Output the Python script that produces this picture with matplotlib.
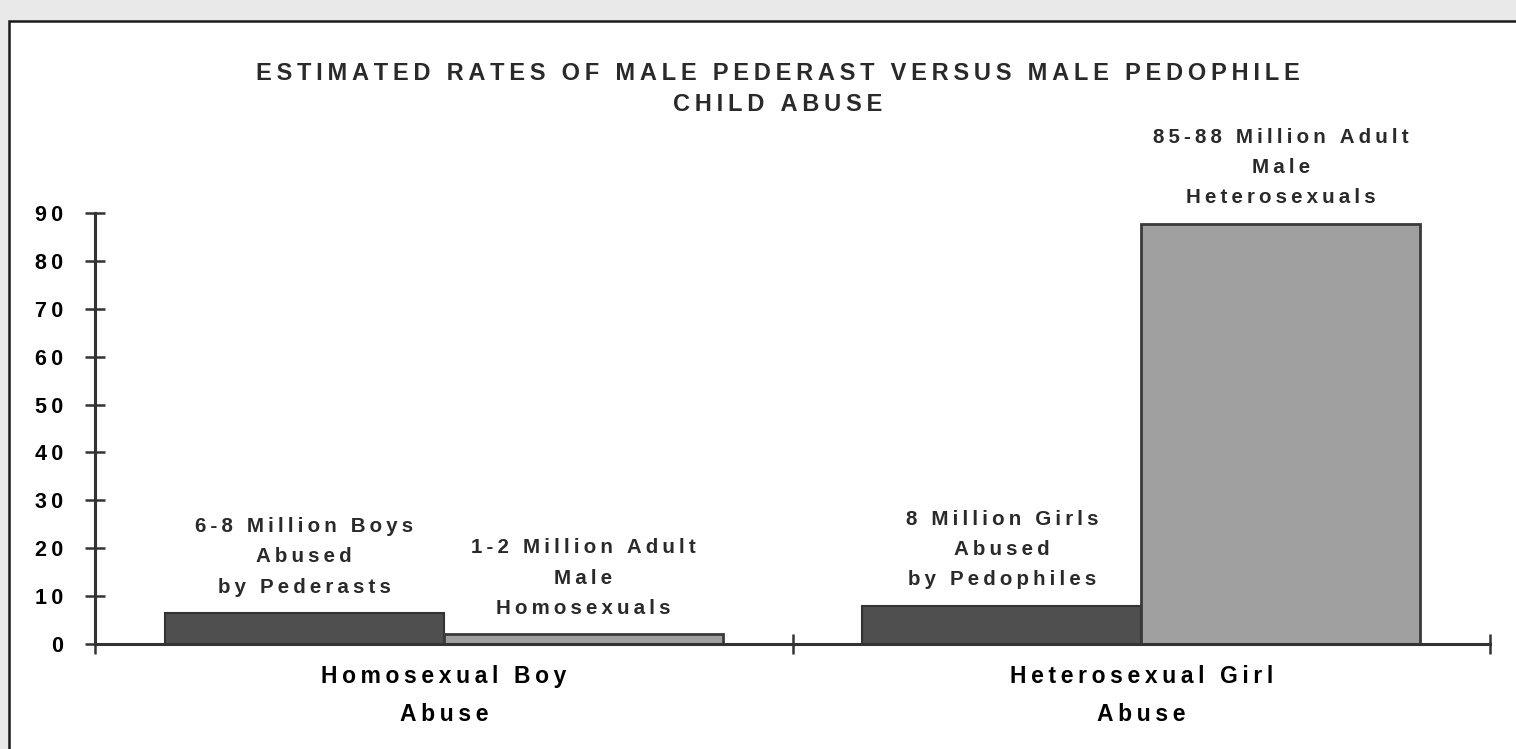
import matplotlib.pyplot as plt
import numpy as np
from matplotlib.patches import Rectangle

# data (millions)
groups = ['Homosexual Boy\nAbuse', 'Heterosexual Girl\nAbuse']
abused = [6.4, 8.0]          # children abused
adults = [2.0, 87.7]         # adult males
abused_labels = ['6-8 Million Boys\nAbused\nby Pederasts',
                 '8 Million Girls\nAbused\nby Pedophiles']
adult_labels = ['1-2 Million Adult\nMale\nHomosexuals',
                '85-88 Million Adult\nMale\nHeterosexuals']
yticks = [0, 10, 20, 30, 40, 50, 60, 70, 80, 90]
title = 'ESTIMATED RATES OF MALE PEDERAST VERSUS MALE PEDOPHILE\nCHILD ABUSE'

plt.rcParams['font.family'] = ['Liberation Sans', 'DejaVu Sans']
plt.rcParams['font.weight'] = 'bold'
plt.rcParams['text.color'] = '#2a2a2a'

def spaced(s):
    # old chart used wide letter spacing
    return '\n'.join('\u2009'.join(line) for line in s.split('\n'))

W, H = 1516, 749
fig = plt.figure(figsize=(W / 100, H / 100), dpi=100, facecolor='#e9e9e9')
# white page with the frame line on left and top
fig.patches.append(Rectangle((9 / W, -0.1), 1.1, 1 - 21 / H + 0.1, transform=fig.transFigure,
                             facecolor='white', edgecolor='#1a1a1a', lw=1.8, zorder=-5))

ax = fig.add_axes([95 / W, 1 - 644 / H, 1395 / W, (644 - 213) / H])
ax.patch.set_alpha(0)
ax.set_xlim(0, 2)
ax.set_ylim(0, 90)

x = np.arange(len(groups)) + 0.5
b1 = ax.bar(x - 0.2, abused, 0.4, color='#4f4f4f', edgecolor='#333333', lw=1.5)
b2 = ax.bar(x + 0.2, adults, 0.4, color='#a0a0a0', edgecolor='#3a3a3a', lw=2)

for bars, labels in ((b1, abused_labels), (b2, adult_labels)):
    for r, lab in zip(bars, labels):
        ax.annotate(spaced(lab), (r.get_x() + r.get_width() / 2, r.get_height()),
                    xytext=(0, 12), textcoords='offset points', ha='center', va='bottom',
                    fontsize=14.8, linespacing=1.75)

for s in ['top', 'right']:
    ax.spines[s].set_visible(False)
for s in ['left', 'bottom']:
    ax.spines[s].set_linewidth(2.2)
    ax.spines[s].set_color('#333333')

ax.set_yticks(yticks, [spaced(str(t)) for t in yticks])
ax.set_xticks([0, 1, 2], ['', '', ''])
ax.set_xticks(x, [spaced(g) for g in groups], minor=True)
ax.tick_params(which='major', direction='inout', length=14, width=1.8, color='#333333',
               labelsize=15.5)
ax.tick_params(axis='y', pad=16)
ax.tick_params(axis='x', which='minor', length=0, pad=15, labelsize=16.5)
for t in ax.get_xticklabels(minor=True):
    t.set_linespacing(1.85)

fig.text(778 / W, 1 - 89 / H, spaced(title), ha='center', va='center',
         fontsize=17, linespacing=1.4)

fig.savefig('out.png', dpi=100, facecolor=fig.get_facecolor())
